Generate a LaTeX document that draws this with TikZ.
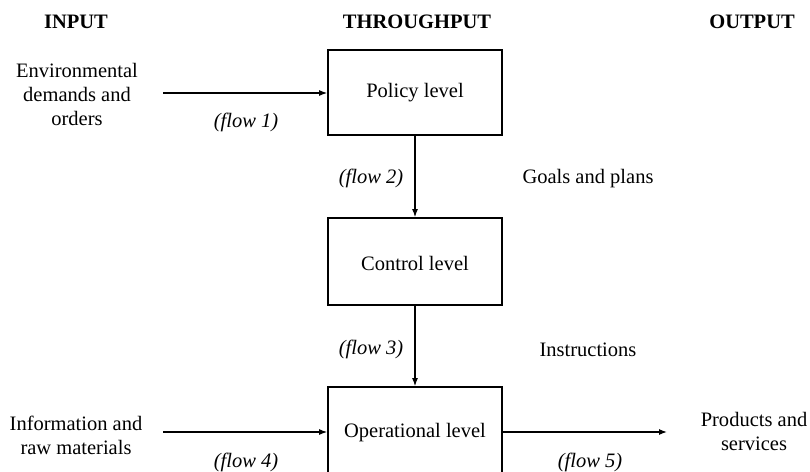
\documentclass[tikz,border=0pt]{standalone}
\usepackage{fontspec}
\setmainfont{Liberation Serif}
\usetikzlibrary{arrows.meta}
\begin{document}
\begin{tikzpicture}[x=1pt,y=-1pt,
  lvlbox/.style={draw,line width=1.8pt,minimum width=174pt,minimum height=86pt,inner sep=0pt},
  ttl/.style={font=\bfseries\fontsize{20.5}{24}\selectfont},
  txt/.style={font=\fontsize{20.5}{24}\selectfont,align=center},
  flw/.style={font=\itshape\fontsize{20.5}{24}\selectfont},
  arr/.style={-{Latex[length=8pt,width=6pt]},line width=1.2pt}]
\useasboundingbox (0,0) rectangle (810,471);
\begin{scope}
\clip (0,0) rectangle (810,471);
\node[ttl] (tin) at (76,22) {INPUT};
\node[ttl] (tth) at (417,22) {THROUGHPUT};
\node[ttl] (tout) at (752,22) {OUTPUT};
\node[lvlbox,minimum height=85pt] (pol) at (415,92.5) {};
\node[lvlbox,minimum height=87pt] (con) at (415,261.5) {};
\node[lvlbox,minimum height=110pt] (ope) at (415,442) {};
\node[txt] (polt) at (415,93) {Policy level};
\node[txt] (cont) at (415,263) {Control level};
\node[txt] (opet) at (415,433) {Operational level};
\node[txt] (env) at (77,94) {Environmental\\demands and\\orders};
\node[txt] (inf) at (76,435) {Information and\\raw materials};
\node[txt] (prod) at (754,431) {Products and\\services};
\coordinate (e1) at (163,93);
\coordinate (i1) at (163,432);
\coordinate (p1) at (667,432);
\draw[arr] (e1) -- (pol.west |- e1);
\draw[arr] (pol.south) -- (con.north);
\draw[arr] (con.south) -- (ope.north);
\draw[arr] (i1) -- (ope.west |- i1);
\draw[arr] (ope.east |- p1) -- (p1);
\node[flw] (f1) at (246,122) {(flow 1)};
\node[flw] (f2) at (371,178) {(flow 2)};
\node[flw] (f3) at (371,349) {(flow 3)};
\node[flw] (f4) at (246,462) {(flow 4)};
\node[flw] (f5) at (590,462) {(flow 5)};
\node[txt] (gp) at (588,179) {Goals and plans};
\node[txt] (ins) at (588,350) {Instructions};
\end{scope}
\end{tikzpicture}
\end{document}
